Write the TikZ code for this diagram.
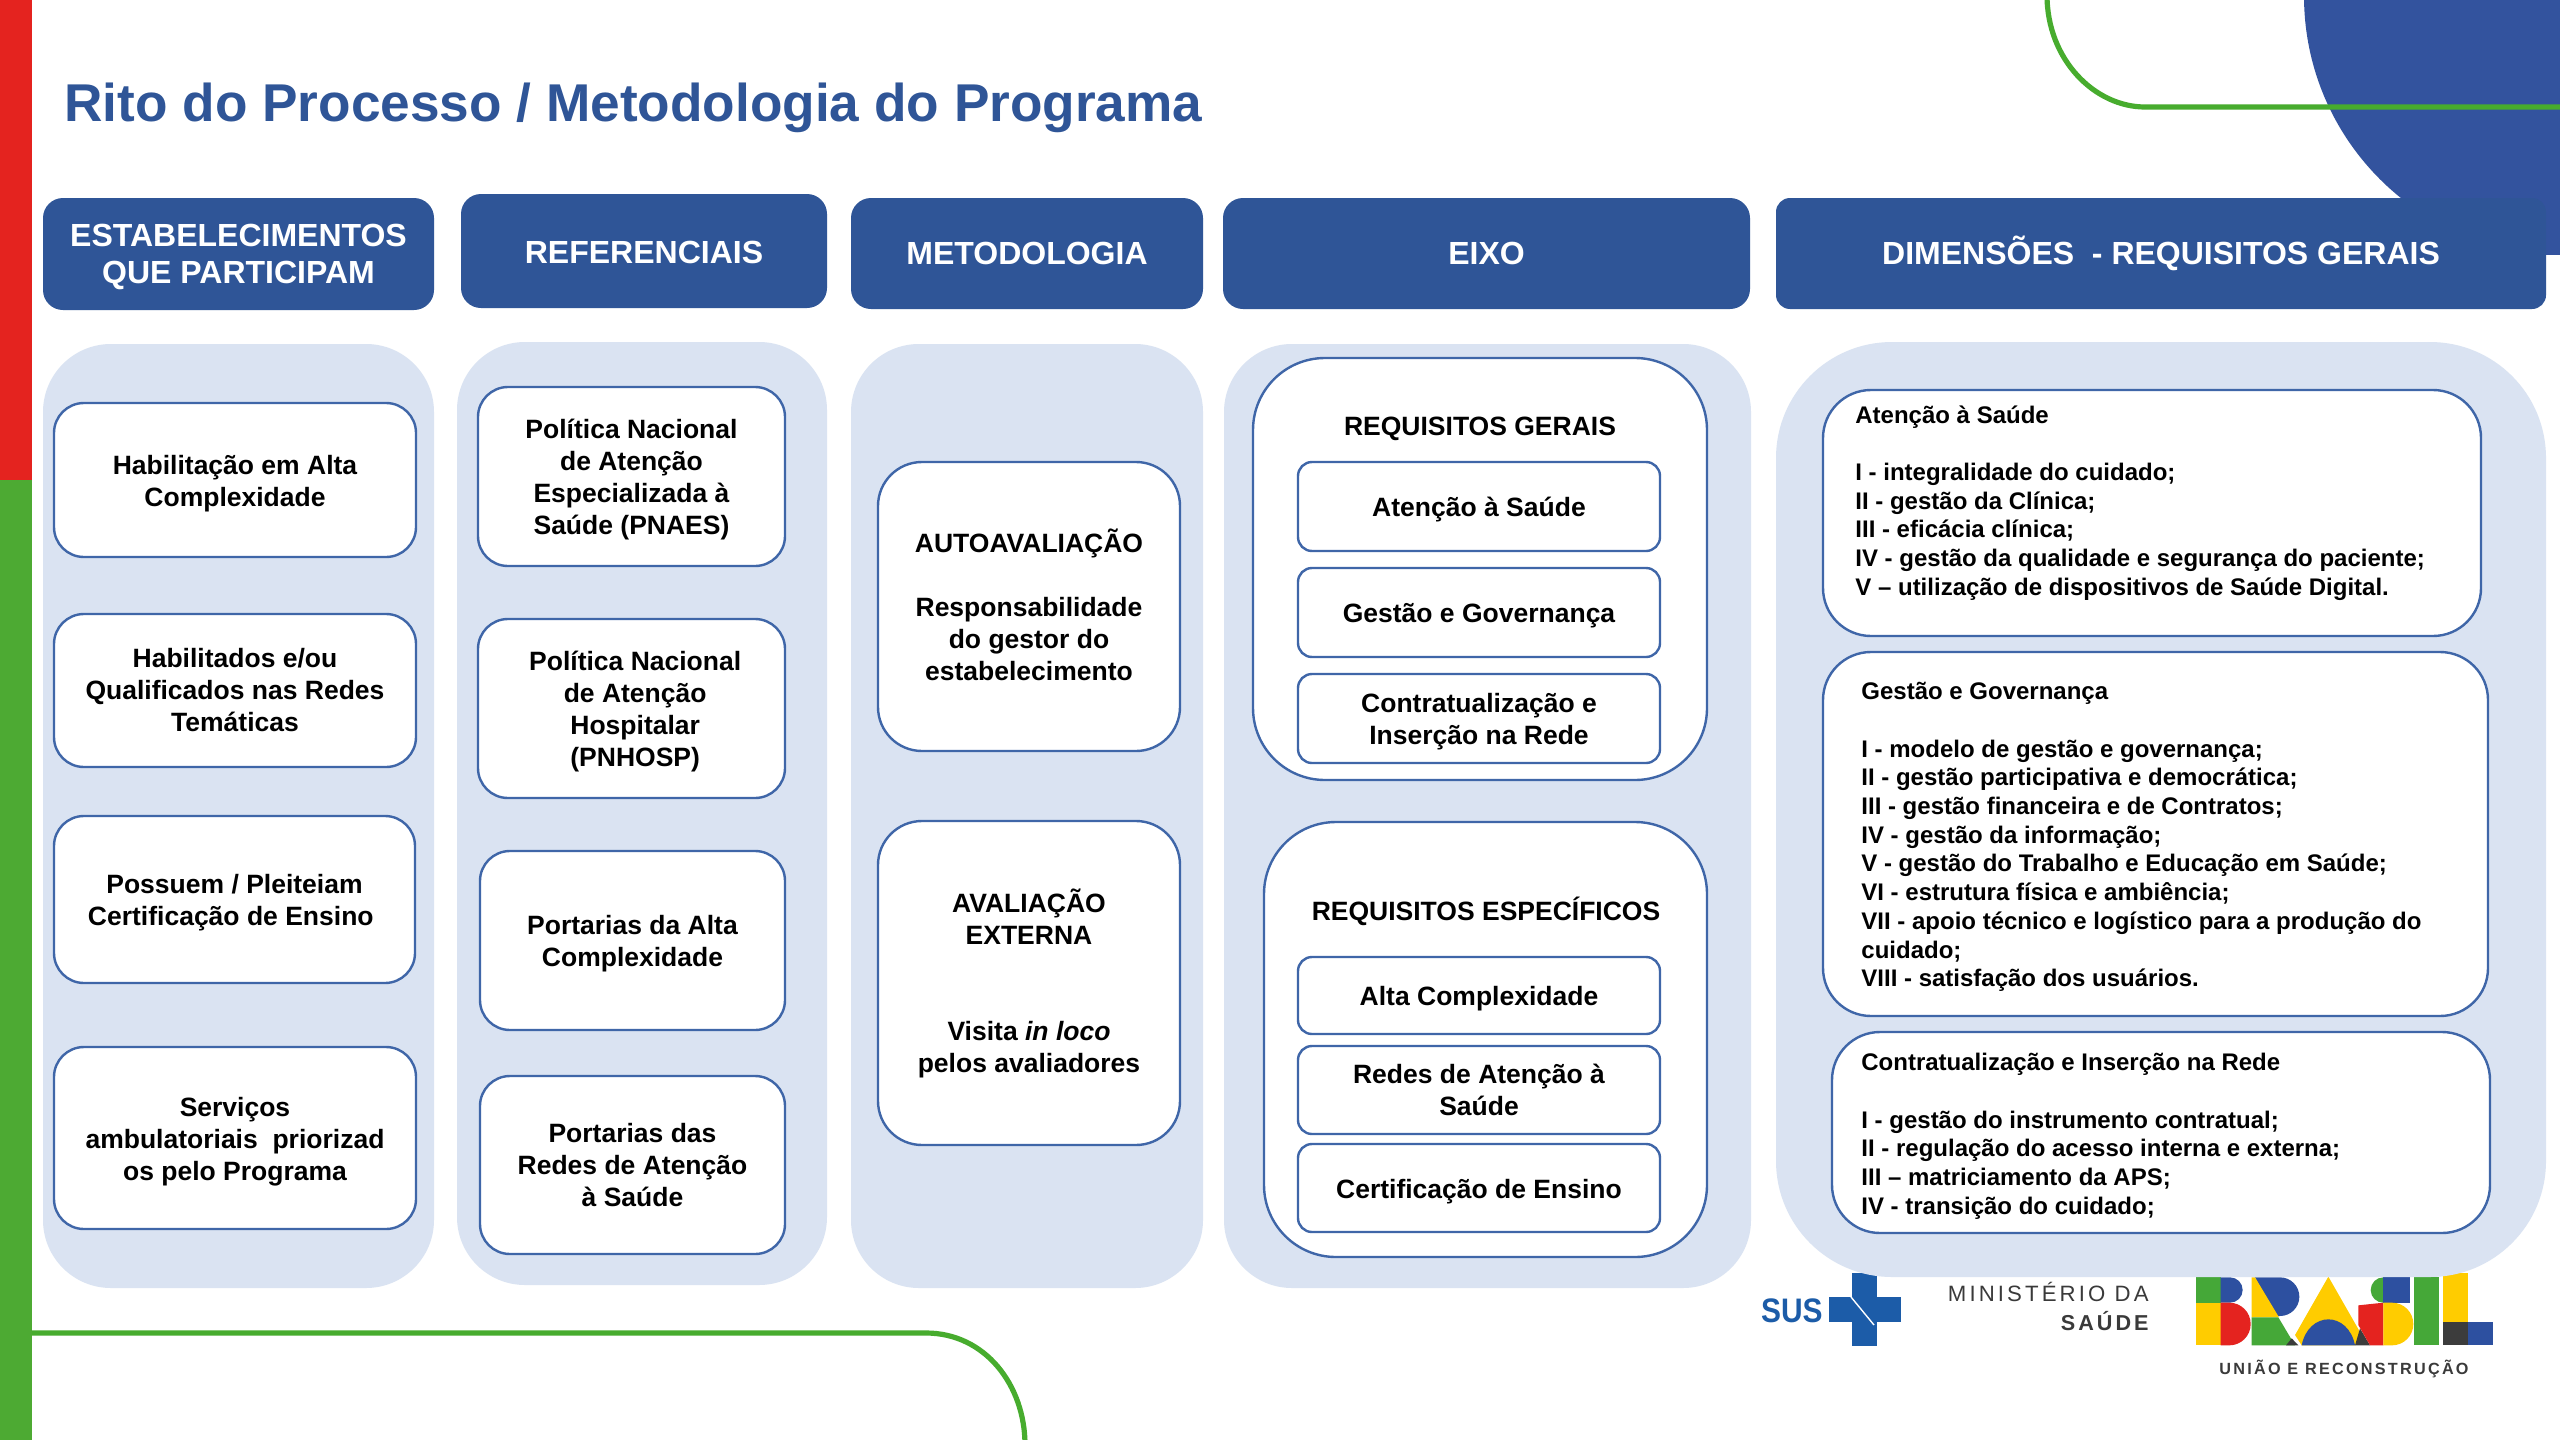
\documentclass[tikz,border=0pt]{standalone}
\usepackage{fontspec}
\setmainfont{Liberation Sans}
\newfontfamily\logofont[LetterSpace=14]{Liberation Sans}
\definecolor{hblue}{HTML}{2F5597}
\definecolor{cblue}{HTML}{33539E}
\definecolor{panelc}{HTML}{DAE3F2}
\definecolor{edgec}{HTML}{3F66A8}
\definecolor{barred}{HTML}{E4231F}
\definecolor{bargreen}{HTML}{4DAA33}
\definecolor{linegreen}{HTML}{47AC2E}
\definecolor{lgreen}{HTML}{45A838}
\definecolor{lyellow}{HTML}{FFCC00}
\definecolor{lred}{HTML}{E4231F}
\definecolor{lblue}{HTML}{2D50A0}
\definecolor{ldark}{HTML}{3C3C3C}
\definecolor{susblue}{HTML}{1C5CA8}
\definecolor{greytxt}{HTML}{3A3A3A}
\tikzset{
  header/.style={fill=hblue,rounded corners=10pt,text=white,align=center,inner sep=0pt,
    font=\fontsize{16}{18.75}\selectfont\bfseries},
  panel/.style={fill=panelc,rounded corners=34pt,inner sep=0pt},
  bigpanel/.style={fill=panelc,rounded corners=58pt,inner sep=0pt},
  itembox/.style={draw=edgec,line width=1.2pt,fill=white,rounded corners=15pt,align=center,inner sep=0pt,
    font=\fontsize{13.25}{16}\selectfont\bfseries},
  smallbox/.style={itembox,rounded corners=7pt},
  groupbox/.style={itembox,rounded corners=36pt},
  dimbox/.style={itembox,rounded corners=24pt},
  dimtext/.style={anchor=north west,align=left,inner sep=0pt,
    font=\fontsize{12}{14.35}\selectfont\bfseries},
  grouptitle/.style={inner sep=0pt,font=\fontsize{13.25}{16}\selectfont\bfseries},
  swoosh/.style={draw=linegreen,line width=2.6pt},
  logotext/.style={inner sep=0pt,text=greytxt},
  bare/.style={draw=none,fill=none,minimum width=0pt,minimum height=0pt},
}
% box with its text: [style]{name}{x1}{y1}{x2}{y2}{text shift down, pt}{text}
\newcommand\bx[8][]{%
  \pgfmathsetmacro\bxcx{(#3+#5)/2}%
  \pgfmathsetmacro\bxcy{(#4+#6)/2}%
  \pgfmathsetmacro\bxw{(#5-#3)/2}%
  \pgfmathsetmacro\bxh{(#6-#4)/2}%
  \node[#1,minimum width=\bxw pt,minimum height=\bxh pt] (#2) at (\bxcx,\bxcy) {};%
  \node[#1,bare] (#2t) at ([yshift=-#7pt]#2.center) {#8};%
}
\begin{document}
\begin{tikzpicture}[x=0.5pt,y=-0.5pt]
\useasboundingbox (0,0) rectangle (2560,1440);
\fill[white] (0,0) rectangle (2560,1440);
\begin{scope}
\clip (0,0) rectangle (2560,1440);
% side bar
\fill[barred] (0,0) rectangle (32,480);
\fill[bargreen] (0,480) rectangle (32,1440);
% corner shapes
\fill[cblue] (2563,-4) circle[radius=259];
\path[swoosh] (2047,-5) .. controls (2047,60) and (2095,107) .. (2145,107) -- (2565,107);
\path[swoosh] (32,1333) -- (926,1333) .. controls (985,1333) and (1025,1385) .. (1025,1445);
\end{scope}
% title
\node[anchor=base west,inner sep=0pt,text=hblue,font=\fontsize{26.6}{32}\selectfont\bfseries] (title) at (64,121) {Rito do Processo / Metodologia do Programa};
% logos
\begin{scope}[shift={(2180,1260)},x=0.1666667pt,y=-0.1666667pt]
  \fill[lgreen] (48,52) rectangle (122,128);
  \fill[lblue] (122,52) -- (150,52) arc[start angle=-90,end angle=90,radius=38] -- (122,128) -- cycle;
  \fill[lyellow] (48,128) rectangle (122,256);
  \fill[lred] (122,128) -- (148,128) arc[start angle=-90,end angle=90,radius=64] -- (122,256) -- cycle;
  \fill[lblue] (225,52) -- (300,52) arc[start angle=-90,end angle=90,radius=58] -- (285,168) -- cycle;
  \fill[lyellow] (215,52) -- (225,52) -- (297,172) -- (215,172) -- cycle;
  \fill[lgreen] (215,172) -- (295,172) -- (345,256) -- (215,256) -- cycle;
  \fill[ldark] (335,235) -- (355,256) -- (318,256) -- cycle;
  \fill[lyellow] (445,50) -- (545,225) -- (525,256) -- (365,256) -- (345,225) -- cycle;
  \fill[lblue] (365,256) .. controls (375,205) and (410,178) .. (445,178) .. controls (480,178) and (515,205) .. (525,256) -- cycle;
  \fill[ldark] (540,205) -- (570,256) -- (525,256) -- cycle;
  \fill[lred] (535,136) -- (610,128) -- (610,256) -- (570,256) -- (535,195) -- cycle;
  \fill[lgreen] (610,52) arc[start angle=-90,end angle=-270,radius=38] -- cycle;
  \fill[lblue] (610,52) rectangle (690,128);
  \fill[lyellow] (610,128) -- (636,128) arc[start angle=-90,end angle=90,radius=64] -- (610,256) -- cycle;
  \fill[lgreen] (702,52) rectangle (778,256);
  \fill[lyellow] (788,40) rectangle (865,185);
  \fill[ldark] (788,185) rectangle (865,256);
  \fill[lblue] (865,185) rectangle (940,256);
\end{scope}
\node[logotext,anchor=base,font=\logofont\fontsize{8.1}{10}\selectfont\bfseries] (uniao) at (2344,1374) {UNIÃO E RECONSTRUÇÃO};
\node[logotext,anchor=base east,font=\logofont\fontsize{11.1}{13}\selectfont] (min) at (2149,1301) {MINISTÉRIO DA};
\node[logotext,anchor=base east,font=\logofont\fontsize{10.8}{13}\selectfont\bfseries] (sau) at (2149,1330) {SAÚDE};
\node[inner sep=0pt,anchor=base east,text=susblue,xscale=.88,font=\fontsize{17}{20}\selectfont\bfseries] (sus) at (1823,1322) {SUS};
\fill[susblue] (1852,1273) rectangle (1877,1346);
\fill[susblue] (1829,1297) rectangle (1901,1322);
\draw[white,line width=.7pt] (1851,1297) -- (1874,1325);
% headers
\fill[cblue] (2400,255) rectangle (2560,198);
\bx[header]{h1}{43}{198}{434}{310}{1.6}{ESTABELECIMENTOS\\QUE PARTICIPAM}
\bx[header]{h2}{461}{194}{827}{308}{0.8}{REFERENCIAIS}
\bx[header]{h3}{851}{198}{1203}{309}{0}{METODOLOGIA}
\bx[header]{h4}{1223}{198}{1750}{309}{0}{EIXO}
\bx[header,rounded corners=7pt]{h5}{1776}{198}{2546}{309}{0}{DIMENSÕES\ \ - REQUISITOS GERAIS}
% panels
\bx[panel]{p1}{43}{344}{434}{1288}{0}{}
\bx[panel]{p2}{457}{342}{827}{1285}{0}{}
\bx[panel]{p3}{851}{344}{1203}{1288}{0}{}
\bx[panel]{p4}{1224}{344}{1751}{1288}{0}{}
\bx[bigpanel]{p5}{1776}{342}{2546}{1277}{0}{}
% column 1
\bx[itembox]{a1}{54}{403}{416}{557}{1.6}{Habilitação em Alta\\Complexidade}
\bx[itembox]{a2}{54}{614}{416}{767}{0}{Habilitados e/ou\\Qualificados nas Redes\\Temáticas}
\bx[itembox]{a3}{54}{816}{415}{983}{1.6}{Possuem / Pleiteiam\\Certificação de Ensino\ \ }
\bx[itembox]{a4}{54}{1047}{416}{1229}{1.6}{Serviços\\ambulatoriais\ \ priorizad\\os pelo Programa}
% column 2
\bx[itembox]{b1}{478}{387}{785}{566}{1.6}{Política Nacional\\de Atenção\\Especializada à\\Saúde (PNAES)}
\bx[itembox]{b2}{478}{619}{785}{798}{1.6}{\ Política Nacional\\\ de Atenção\\\ Hospitalar\\\ (PNHOSP)}
\bx[itembox]{b3}{480}{851}{785}{1030}{1.6}{Portarias da Alta\\Complexidade}
\bx[itembox]{b4}{480}{1076}{785}{1254}{0}{Portarias das\\Redes de Atenção\\à Saúde}
% column 3
\bx[itembox,rounded corners=22pt]{c1}{878}{462}{1180}{751}{-0.8}{AUTOAVALIAÇÃO\\[16pt]Responsabilidade\\do gestor do\\estabelecimento}
\bx[itembox,rounded corners=22pt]{c2}{878}{821}{1180}{1145}{0}{AVALIAÇÃO\\EXTERNA\\[32pt]Visita \textit{in loco}\\pelos avaliadores}
% column 4
\bx[groupbox]{g1}{1253}{358}{1707}{780}{0}{}
\node[grouptitle] (g1t) at (1480,429) {REQUISITOS GERAIS};
\bx[smallbox]{d1}{1298}{462}{1660}{551}{1.6}{Atenção à Saúde}
\bx[smallbox]{d2}{1298}{568}{1660}{657}{1.6}{Gestão e Governança}
\bx[smallbox]{d3}{1298}{674}{1660}{763}{1.6}{Contratualização e\\Inserção na Rede}
\bx[groupbox]{g2}{1264}{822}{1707}{1257}{0}{}
\node[grouptitle] (g2t) at (1486,911) {REQUISITOS ESPECÍFICOS};
\bx[smallbox]{d4}{1298}{957}{1660}{1034}{1.6}{Alta Complexidade}
\bx[smallbox]{d5}{1298}{1046}{1660}{1134}{0}{Redes de Atenção à\\Saúde}
\bx[smallbox]{d6}{1298}{1144}{1660}{1232}{1.6}{Certificação de Ensino}
% column 5
\bx[dimbox]{e1}{1823}{390}{2481}{636}{0}{}
\node[dimtext] (e1x) at (1855,405) {Atenção à Saúde\\[14.35pt]I - integralidade do cuidado;\\II - gestão da Clínica;\\III - eficácia clínica;\\IV - gestão da qualidade e segurança do paciente;\\V – utilização de dispositivos de Saúde Digital.};
\bx[dimbox]{e2}{1823}{652}{2488}{1016}{0}{}
\node[dimtext] (e2x) at (1861,682) {Gestão e Governança\\[14.35pt]I - modelo de gestão e governança;\\II - gestão participativa e democrática;\\III - gestão financeira e de Contratos;\\IV - gestão da informação;\\V - gestão do Trabalho e Educação em Saúde;\\VI - estrutura física e ambiência;\\VII - apoio técnico e logístico para a produção do\\cuidado;\\VIII - satisfação dos usuários.};
\bx[dimbox]{e3}{1832}{1032}{2490}{1233}{0}{}
\node[dimtext] (e3x) at (1861,1053) {Contratualização e Inserção na Rede\\[14.35pt]I - gestão do instrumento contratual;\\II - regulação do acesso interna e externa;\\III – matriciamento da APS;\\IV - transição do cuidado;};
\end{tikzpicture}
\end{document}
